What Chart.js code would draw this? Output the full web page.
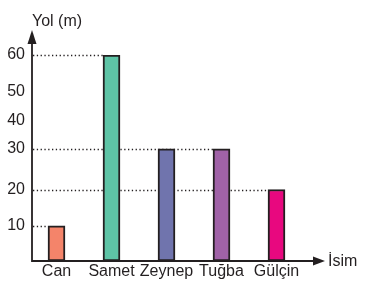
<!DOCTYPE html>
<html><head><meta charset="utf-8">
<script src="https://cdn.jsdelivr.net/npm/chart.js@4/dist/chart.umd.min.js"></script>
<style>html,body{margin:0;padding:0;background:#fff}canvas{display:block}</style>
</head><body>
<canvas id="c" width="369" height="291"></canvas>
<script>
const categories = ['Can', 'Samet', 'Zeynep', 'Tuğba', 'Gülçin'];
const distances = [10, 60, 30, 30, 20];
const barColors = ['#f4846a', '#5ec4a6', '#7074ad', '#a062a7', '#e8087f'];
const yTickValues = [10, 20, 30, 40, 50, 60];
const yAxisTitle = 'Yol (m)';
const xAxisTitle = 'İsim';

const ink = '#231f20';
const fontFamily = '"Liberation Sans", Arial, Helvetica, sans-serif';

// The printed figure's value axis is not evenly spaced: value -> fraction of axis height
const axisWarp = [[0, 0], [10, 0.171], [20, 0.347], [30, 0.544], [40, 0.684], [50, 0.824], [60, 1]];

class WarpScale extends Chart.LinearScale {
  getPixelForValue(value) {
    if (value === null || value === undefined || isNaN(value)) return NaN;
    const w = axisWarp;
    let i = 1;
    while (i < w.length - 1 && value > w[i][0]) i++;
    const [v0, f0] = w[i - 1], [v1, f1] = w[i];
    const f = f0 + (value - v0) / (v1 - v0) * (f1 - f0);
    return this.getPixelForDecimal(f);
  }
  getValueForPixel(pixel) {
    const f = this.getDecimalForPixel(pixel);
    const w = axisWarp;
    let i = 1;
    while (i < w.length - 1 && f > w[i][1]) i++;
    const [v0, f0] = w[i - 1], [v1, f1] = w[i];
    return v0 + (f - f0) / (f1 - f0) * (v1 - v0);
  }
}
WarpScale.id = 'warp';
WarpScale.defaults = Chart.LinearScale.defaults;
Chart.register(WarpScale);

const figurePlugin = {
  id: 'figure',
  beforeDatasetsDraw(chart) {
    const { ctx, chartArea: a, scales: { y } } = chart;
    const meta = chart.getDatasetMeta(0);
    const axisX = a.left + 3;
    ctx.save();
    ctx.strokeStyle = ink;
    ctx.lineWidth = 1.3;
    ctx.setLineDash([1.3, 2.5]);
    [...new Set(distances)].forEach(v => {
      const bar = meta.data[distances.lastIndexOf(v)];
      const yy = Math.round(y.getPixelForValue(v)) + 0.5;
      ctx.beginPath();
      ctx.moveTo(axisX + 1, yy);
      ctx.lineTo(bar.x - bar.width / 2, yy);
      ctx.stroke();
    });
    ctx.restore();
  },
  afterDatasetsDraw(chart) {
    const { ctx, chartArea: a } = chart;
    const axisX = a.left + 3;
    const yTip = a.top - 25, xTip = a.right + 21;
    ctx.save();
    ctx.strokeStyle = ink;
    ctx.fillStyle = ink;
    ctx.lineWidth = 1.8;
    ctx.beginPath();
    ctx.moveTo(axisX, a.bottom + 0.9);
    ctx.lineTo(axisX, yTip + 12);
    ctx.moveTo(axisX - 0.9, a.bottom);
    ctx.lineTo(xTip - 10, a.bottom);
    ctx.stroke();
    ctx.beginPath();
    ctx.moveTo(axisX, yTip);
    ctx.lineTo(axisX + 4.5, yTip + 14);
    ctx.lineTo(axisX - 4.5, yTip + 14);
    ctx.closePath();
    ctx.fill();
    ctx.beginPath();
    ctx.moveTo(xTip, a.bottom);
    ctx.lineTo(xTip - 12, a.bottom - 4.5);
    ctx.lineTo(xTip - 12, a.bottom + 4.5);
    ctx.closePath();
    ctx.fill();
    ctx.font = '16px ' + fontFamily;
    ctx.textAlign = 'left';
    ctx.textBaseline = 'alphabetic';
    ctx.fillText(yAxisTitle, axisX, yTip - 4);
    ctx.fillText(xAxisTitle, xTip + 3, a.bottom + 5);
    ctx.restore();
  }
};

new Chart(document.getElementById('c'), {
  type: 'bar',
  data: {
    labels: categories,
    datasets: [{
      data: distances,
      backgroundColor: barColors,
      borderColor: ink,
      borderWidth: 2,
      borderSkipped: false,
      barThickness: 17
    }]
  },
  options: {
    responsive: false,
    animation: false,
    devicePixelRatio: 1,
    layout: { padding: { top: 55, right: 65, bottom: 0, left: 0 } },
    plugins: { legend: { display: false }, tooltip: { enabled: false } },
    scales: {
      x: {
        type: 'category',
        offset: true,
        grid: { display: false, drawTicks: false },
        border: { display: false },
        ticks: { color: ink, font: { family: fontFamily, size: 16 }, padding: 1, maxRotation: 0, autoSkip: false },
        afterFit: s => { s.height = 30; }
      },
      y: {
        type: 'warp',
        min: 0,
        max: 60,
        grid: { display: false, drawTicks: false },
        border: { display: false },
        ticks: { color: ink, font: { family: fontFamily, size: 16 }, padding: 4 },
        afterBuildTicks: s => { s.ticks = yTickValues.map(v => ({ value: v })); },
        afterFit: s => { s.width = 29; }
      }
    }
  },
  plugins: [figurePlugin]
});
</script>
</body></html>
